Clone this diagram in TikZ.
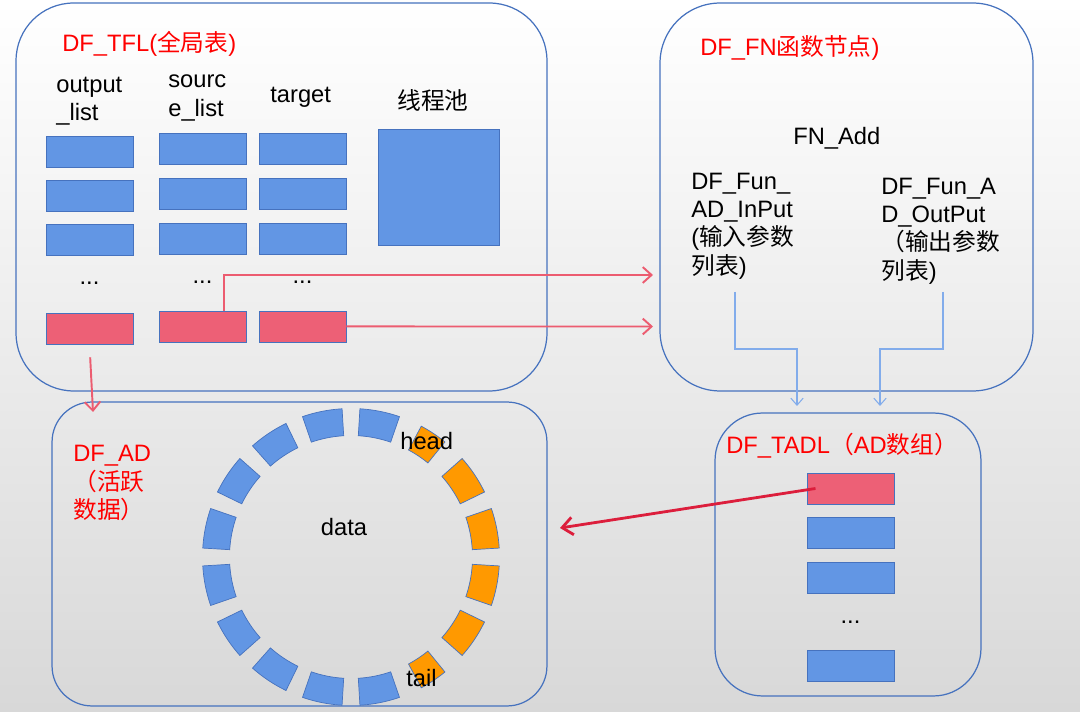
\documentclass[tikz,border=0pt]{standalone}
\usepackage{fontspec}
\setmainfont{Liberation Sans}
\newfontfamily\zhfont{Noto Sans CJK SC}
\newcommand{\zh}[1]{{\zhfont #1}}
\usetikzlibrary{positioning,arrows.meta}

\definecolor{cellblue}{RGB}{98,150,228}
\definecolor{cellred}{RGB}{237,96,118}
\definecolor{ringorange}{RGB}{255,153,0}
\definecolor{edgeblue}{RGB}{70,114,190}
\definecolor{linkred}{RGB}{236,92,112}
\definecolor{deepred}{RGB}{220,30,60}
\definecolor{linkblue}{RGB}{130,172,235}
\definecolor{bgbottom}{RGB}{216,216,216}

\begin{document}
\begin{tikzpicture}[x=0.02cm, y=-0.02cm, node distance=0.88cm and 2cm, on grid,
	font=\fontsize{13.5}{16.2}\selectfont,
	panel/.style={draw=edgeblue, line width=0.7pt, rounded corners=1.15cm, inner sep=0pt},
	cell/.style={draw=edgeblue, fill=cellblue, minimum width=1.74cm, minimum height=0.62cm, inner sep=0pt},
	hot/.style={cell, fill=cellred},
	lbl/.style={inner sep=0pt, align=left, anchor=west},
	title/.style={lbl, text=red},
	link/.style={draw=linkred, line width=1.1pt, -{Straight Barb[length=5pt, width=9pt]}},
	thinlink/.style={draw=linkblue, line width=0.6pt, -{Straight Barb[length=4pt, width=7pt]}},
	deeplink/.style={draw=deepred, line width=1.6pt, -{Straight Barb[length=6pt, width=10pt]}}]

	% background
	\shade[top color=white, bottom color=bgbottom] (0,0) rectangle (1080,712);
	\useasboundingbox (0,0) rectangle (1080,712);

	% panels
	\node[panel, minimum width=10.62cm, minimum height=7.76cm] (tfl) at (281.5,197) {};
	\node[panel, minimum width=7.46cm, minimum height=7.76cm, rounded corners=1.2cm] (fn) at (846.5,197) {};
	\node[panel, minimum width=9.9cm, minimum height=6.08cm, rounded corners=0.8cm] (ad) at (299.5,554) {};
	\node[panel, minimum width=5.32cm, minimum height=5.66cm, rounded corners=0.95cm] (tadl) at (848,554.5) {};

	% global table
	\node[title] (tfltitle) at (62,44) {DF\_TFL(\zh{全局表})};
	\node[lbl] (olbl) at (56,101) {output\\\_list};
	\node[lbl] (slbl) at (168,98) {sourc\\e\_list};
	\node[lbl] (tlbl) at (270,97) {target};
	\node[lbl] (plbl) at (397,100) {\zh{线程池}};

	\node[cell] (o1) at (89.5,151.5) {};
	\node[cell] (o2) [below=of o1] {};
	\node[cell] (o3) [below=of o2] {};
	\node (odots) [below=0.88cm of o3] {...};
	\node[hot] (o4) [below=1.78cm of o3] {};

	\node[cell] (s1) at (202.5,148.5) {};
	\node[cell] (s2) [below=0.9cm of s1] {};
	\node[cell] (s3) [below=0.9cm of s2] {};
	\node (sdots) [below=0.87cm of s3] {...};
	\node[hot] (s4) [below=1.76cm of s3] {};

	\node[cell] (t1) [right=of s1] {};
	\node[cell] (t2) [right=of s2] {};
	\node[cell] (t3) [right=of s3] {};
	\node (tdots) [right=of sdots] {...};
	\node[hot] (t4) [right=of s4] {};

	\node[cell, minimum width=2.42cm, minimum height=2.32cm] (pool) at (438.5,187) {};

	% function node
	\node[title] (fntitle) at (700,48) {DF\_FN\zh{函数节点})};
	\node[lbl] (fnadd) at (793,138) {FN\_Add};
	\node[lbl] (fnin) at (691,226) {DF\_Fun\_\\AD\_InPut\\(\zh{输入参数}\\\zh{列表})};
	\node[lbl] (fnout) at (881,231) {DF\_Fun\_A\\D\_OutPut\\\zh{（输出参数}\\\zh{列表})};

	% active data
	\node[title] (adtitle) at (73,483) {DF\_AD\\\zh{（活跃}\\\zh{数据）}};
	\begin{scope}[shift={(351,557)}, x=0.02cm, y=0.02cm]
		\foreach \a in {78.75,101.25,...,281.25}
			\draw[draw=edgeblue, fill=cellblue] (\a-7.8:121.5) arc[start angle=\a-7.8, end angle=\a+7.8, radius=121.5] -- (\a+7.8:148.5) arc[start angle=\a+7.8, end angle=\a-7.8, radius=148.5] -- cycle;
		\foreach \a/\w in {56.25/5.5, 33.75/7.8, 11.25/7.8, 348.75/7.8, 326.25/7.8, 303.75/5.5}
			\draw[draw=edgeblue, fill=ringorange] (\a-\w:121.5) arc[start angle=\a-\w, end angle=\a+\w, radius=121.5] -- (\a+\w:148.5) arc[start angle=\a+\w, end angle=\a-\w, radius=148.5] -- cycle;
	\end{scope}
	\node (data) at (344,527) {data};
	\node[lbl] (head) at (400,441) {head};
	\node[lbl] (tail) at (406,678) {tail};

	% AD array
	\node[title] (tadltitle) at (726,446) {DF\_TADL\zh{（}AD\zh{数组）}};
	\node[hot] (a1) at (850.5,488.5) {};
	\node[cell] (a2) [below=of a1] {};
	\node[cell] (a3) [below=0.9cm of a2] {};
	\node (adots) [below=0.89cm of a3] {...};
	\node[cell] (a4) [below=1.76cm of a3] {};

	% connectors
	\coordinate (fnin1) at (653,275);
	\coordinate (fnin2) at (653,326.5);
	\coordinate (adin) at (93,412);
	\coordinate (inp) at (735,292);
	\coordinate (outp) at (943,292);
	\coordinate (tadlin1) at (797,406);
	\coordinate (tadlin2) at (880,406);
	\coordinate (adout) at (560,528);

	\draw[link] ([xshift=0.43cm]s4.north) |- (fnin1);
	\path (t4.east) edge[link] (fnin2);
	\path (o4.south) edge[link, shorten <=0.26cm] (adin);
	\draw[thinlink] (inp) -- ++(0,57) -| (tadlin1);
	\draw[thinlink] (outp) -- ++(0,57) -| (tadlin2);
	\path ([xshift=-0.7cm]a1.center) edge[deeplink] (adout);

\end{tikzpicture}
\end{document}
